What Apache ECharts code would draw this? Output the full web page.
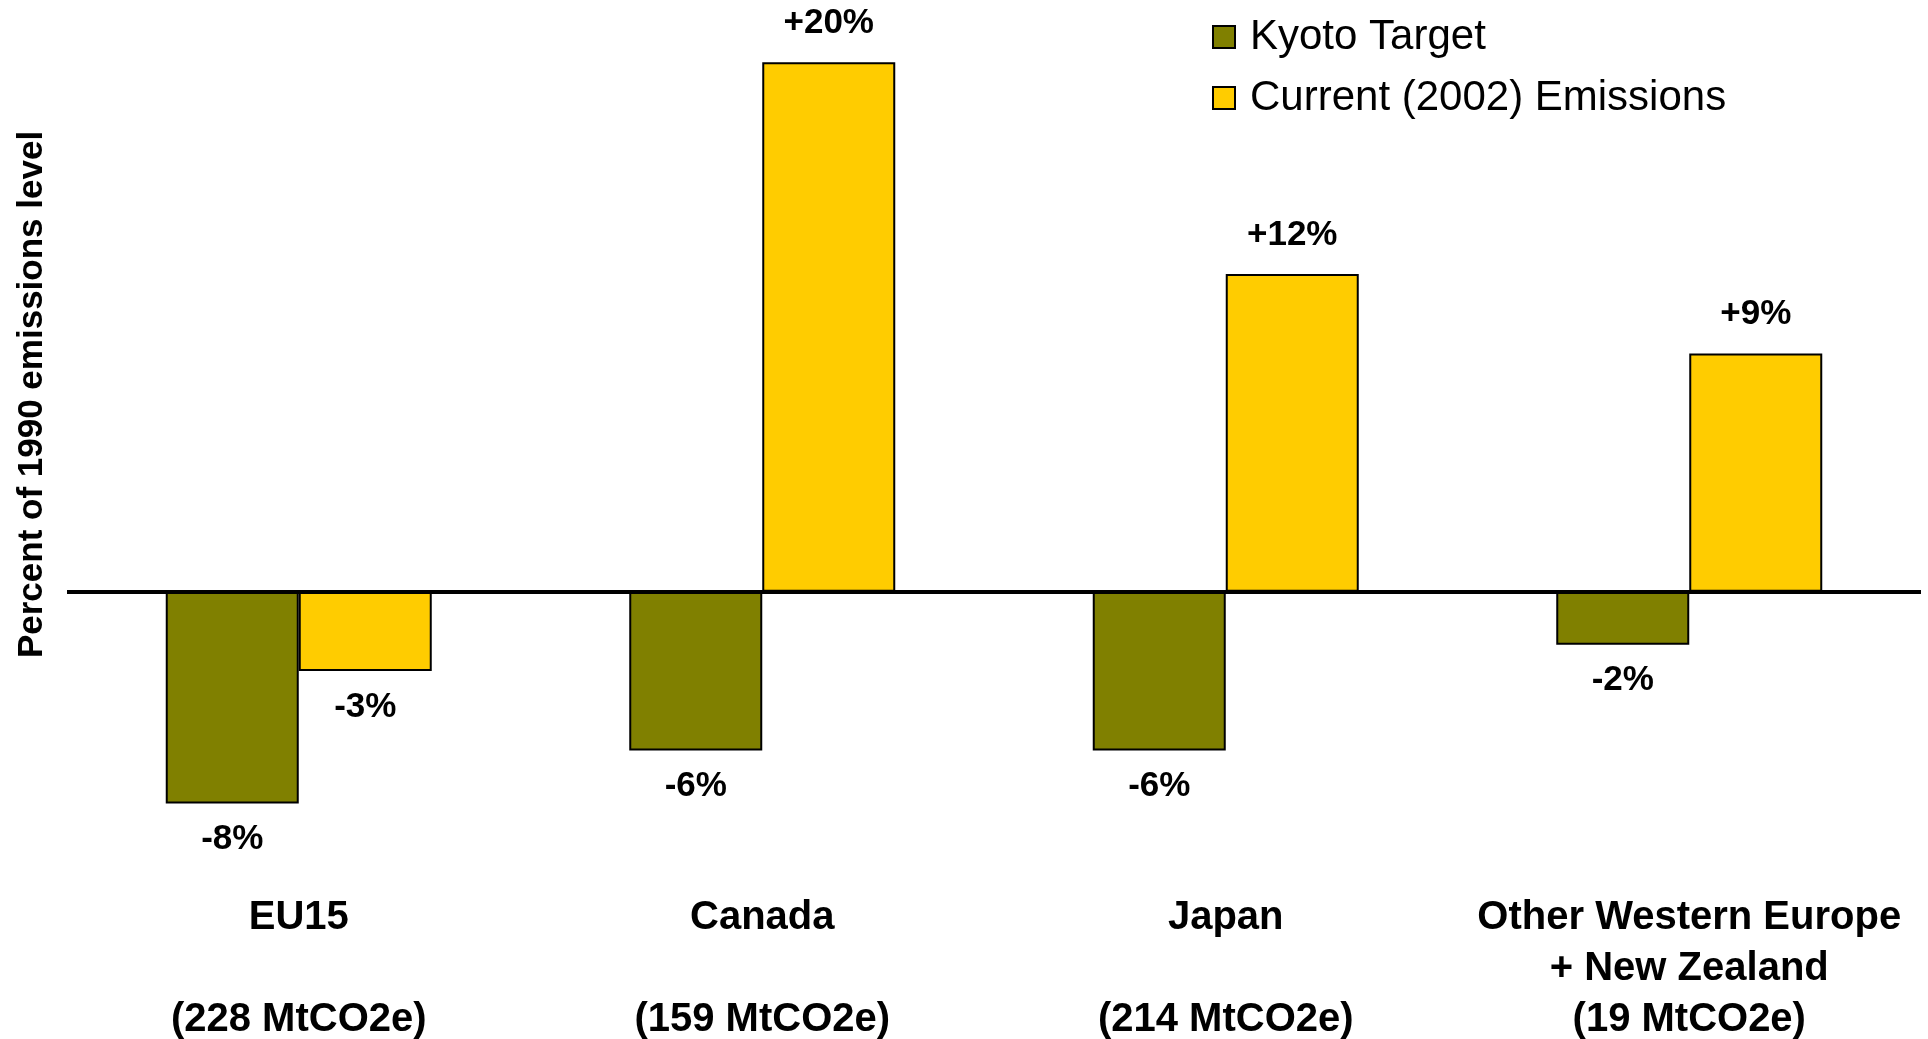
<!DOCTYPE html>
<html>
<head>
<meta charset="utf-8">
<title>Kyoto targets vs. current emissions</title>
<script src="https://cdn.jsdelivr.net/npm/echarts@6/dist/echarts.min.js"></script>
<style>
  html, body { margin: 0; padding: 0; background: #fff; }
  #chart { width: 1928px; height: 1039px; }
</style>
</head>
<body>
<div id="chart"></div>
<script>
// Regions and their 1990 baseline emissions
const regionNames = ['EU15', 'Canada', 'Japan', 'Other Western Europe\n+ New Zealand'];
const baselineEmissions = ['228 MtCO2e', '159 MtCO2e', '214 MtCO2e', '19 MtCO2e'];

// Percent change relative to 1990 emissions level
const kyotoTarget = [-8, -6, -6, -2];
const currentEmissions = [-3, 20, 12, 9];

const seriesNames = ['Kyoto Target', 'Current (2002) Emissions'];
const yTitle = 'Percent of 1990 emissions level';

const FONT = '"Liberation Sans", Arial, Helvetica, sans-serif';

// Category label: name, then baseline in parentheses (blank line for single-line names)
const categoryLabels = regionNames.map((n, i) =>
  n + (n.indexOf('\n') >= 0 ? '\n' : '\n\n') + '(' + baselineEmissions[i] + ')');

// Put value labels above positive bars and below negative ones
function toItems(values) {
  return values.map(v => ({
    value: v,
    label: { position: v < 0 ? 'bottom' : 'top', distance: v < 0 ? 18 : 21 }
  }));
}

const valueLabel = {
  show: true,
  formatter: p => (p.value > 0 ? '+' : '') + p.value + '%',
  fontFamily: FONT,
  fontWeight: 'bold',
  fontSize: 35,
  lineHeight: 36,
  color: '#000'
};

const chart = echarts.init(document.getElementById('chart'), null, { renderer: 'canvas' });

chart.setOption({
  backgroundColor: '#ffffff',
  animation: false,
  grid: {
    left: 67, right: 7, top: 9.4, bottom: 182.6,
    containLabel: false,
    outerBoundsMode: 'none'
  },
  legend: {
    data: seriesNames,
    orient: 'vertical',
    left: 1212,
    top: 16,
    padding: 0,
    itemWidth: 22,
    itemHeight: 22,
    itemGap: 19,
    icon: 'rect',
    itemStyle: { borderColor: '#000', borderWidth: 2 },
    textStyle: {
      fontFamily: FONT,
      fontSize: 42,
      lineHeight: 42,
      color: '#000',
      padding: [0, 0, 0, 10]
    }
  },
  xAxis: {
    type: 'category',
    data: categoryLabels,
    axisLine: { show: false, onZero: false },
    axisTick: { show: false },
    splitLine: { show: false },
    axisLabel: {
      interval: 0,
      margin: 36,
      fontFamily: FONT,
      fontWeight: 'bold',
      fontSize: 40,
      lineHeight: 51,
      color: '#000',
      align: 'center'
    }
  },
  yAxis: {
    type: 'value',
    min: -10,
    max: 22,
    show: false
  },
  graphic: [{
    type: 'text',
    x: 32,
    y: 394.5,
    rotation: Math.PI / 2,
    style: {
      text: yTitle,
      font: 'bold 35px ' + FONT,
      fill: '#000',
      textAlign: 'center',
      textVerticalAlign: 'middle'
    }
  }],
  series: [
    {
      name: seriesNames[0],
      type: 'bar',
      data: toItems(kyotoTarget),
      barWidth: 133,
      barGap: '0%',
      itemStyle: { color: '#808000', borderColor: '#000', borderWidth: 2 },
      label: valueLabel,
      markLine: {
        silent: true,
        symbol: 'none',
        label: { show: false },
        lineStyle: { color: '#000', width: 4, type: 'solid' },
        data: [{ yAxis: 0 }],
        z: 5
      }
    },
    {
      name: seriesNames[1],
      type: 'bar',
      data: toItems(currentEmissions),
      barWidth: 133,
      barGap: '0%',
      itemStyle: { color: '#FFCC00', borderColor: '#000', borderWidth: 2 },
      label: valueLabel
    }
  ]
});
</script>
</body>
</html>
